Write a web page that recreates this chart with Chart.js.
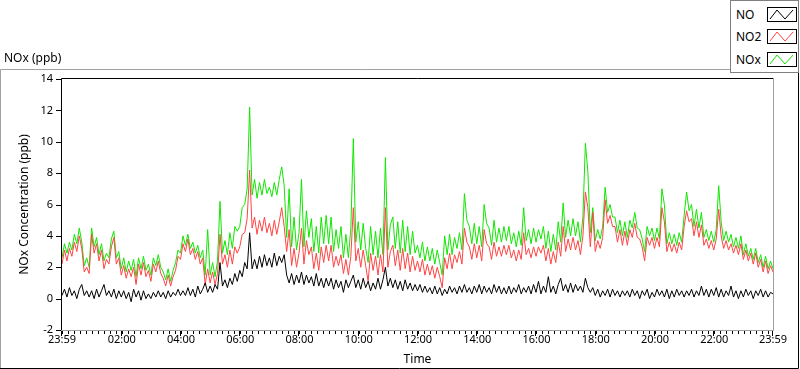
<!DOCTYPE html>
<html>
<head>
<meta charset="utf-8">
<script src="https://cdn.jsdelivr.net/npm/chart.js@4"></script>
<style>
  html, body { margin: 0; padding: 0; background: #fff; }
  #wrap { position: relative; width: 800px; height: 369px; font-family: "Noto Sans", sans-serif; }
  #panelTitle { position: absolute; left: 4px; top: 49px; font-size: 12px; color: #000; }
  #legend { position: absolute; left: 730px; top: 0; width: 67px; height: 71px; border: 1px solid #808080; background: #fff; }
  .item { position: absolute; left: 5px; font-size: 12px; color: #000; line-height: 14px; }
  .item svg { position: absolute; left: 31px; top: -1px; }
</style>
</head>
<body>
<div id="wrap">
  <canvas id="myChart" width="800" height="369"></canvas>
  <div id="panelTitle">NOx (ppb)</div>
  <div id="legend">
    <div class="item" style="top:7px">NO<svg width="30" height="15"><rect x="0.5" y="0.5" width="29" height="14" fill="#fff" stroke="#000"/><polyline points="3,12 10,3 18,12 26,3" fill="none" stroke="#000"/></svg></div>
    <div class="item" style="top:29px">NO2<svg width="30" height="15"><rect x="0.5" y="0.5" width="29" height="14" fill="#fff" stroke="#000"/><polyline points="3,12 10,3 18,12 26,3" fill="none" stroke="#ff4444"/></svg></div>
    <div class="item" style="top:52px">NOx<svg width="30" height="15"><rect x="0.5" y="0.5" width="29" height="14" fill="#fff" stroke="#000"/><polyline points="3,12 10,3 18,12 26,3" fill="none" stroke="#11e600"/></svg></div>
  </div>
</div>
<script>
// one reading every 5 minutes, starting at 23:59 (one row = one hour)
const stepMinutes = 5;

const NO_ppb = [
  0.2, 0.6, 0.1, 0.7, 0.2, 0.5, 0.0, 0.6, 0.9, 0.2, 0.5, 0.1,
  0.5, 0.0, 0.6, 0.1, 0.5, 0.9, 0.2, 0.5, 0.1, 0.6, 0.0, 0.5,
  0.1, 0.5, 0.0, 0.4, -0.2, 0.6, 0.1, 0.5, -0.1, 0.5, 0.0, 0.3,
  0.0, 0.4, 0.1, 0.5, 0.1, 0.4, 0.0, 0.5, 0.1, 0.4, 0.2, 0.6,
  0.2, 0.5, 0.2, 0.7, 0.2, 0.6, 0.1, 0.8, 0.3, 0.6, 1.0, 0.4,
  0.8, 0.4, 0.9, 0.6, 2.3, 0.8, 1.2, 0.7, 1.3, 0.9, 1.6, 1.1,
  1.8, 1.4, 2.3, 1.9, 4.2, 1.9, 2.5, 1.9, 2.7, 2.0, 2.8, 2.1,
  2.6, 2.0, 2.9, 2.1, 2.7, 2.3, 2.8, 1.5, 1.0, 1.6, 0.9, 1.5,
  1.0, 1.7, 0.9, 1.5, 1.0, 1.4, 0.8, 1.6, 0.8, 1.3, 0.7, 1.3,
  0.8, 1.3, 0.6, 1.2, 0.7, 1.1, 0.4, 1.2, 0.7, 1.1, 1.5, 0.7,
  1.2, 0.6, 1.3, 0.7, 1.1, 0.5, 1.0, 0.6, 1.3, 0.6, 1.2, 2.0,
  0.8, 1.3, 0.7, 1.2, 0.6, 1.1, 0.5, 1.2, 0.6, 1.0, 0.5, 0.9,
  0.5, 0.9, 0.4, 0.8, 0.4, 0.7, 0.3, 0.8, 0.3, 0.7, 0.2, 0.6,
  0.3, 0.8, 0.4, 0.7, 0.3, 0.8, 0.4, 0.9, 0.4, 0.7, 0.3, 0.8,
  0.4, 0.9, 0.3, 0.8, 0.4, 0.7, 0.3, 0.9, 0.4, 0.8, 0.3, 0.7,
  0.3, 0.8, 0.3, 0.7, 0.4, 0.9, 0.3, 0.7, 0.4, 0.8, 0.3, 0.9,
  0.4, 1.1, 0.3, 0.8, 0.4, 1.4, 0.4, 0.8, 0.3, 0.9, 1.3, 0.5,
  0.9, 0.4, 1.0, 0.4, 0.9, 0.5, 0.8, 0.4, 1.3, 0.7, 0.4, 0.7,
  0.2, 0.6, 0.1, 0.5, 0.2, 0.6, 0.1, 0.6, 0.2, 0.5, 0.1, 0.5,
  0.2, 0.5, 0.1, 0.6, 0.2, 0.5, 0.0, 0.5, 0.2, 0.6, 0.0, 0.4,
  0.1, 0.6, 0.2, 0.5, 0.1, 0.6, 0.0, 0.5, 0.1, 0.6, 0.2, 0.5,
  0.1, 0.5, 0.2, 0.6, 0.1, 0.5, 0.2, 0.8, 0.2, 0.6, 0.1, 0.6,
  0.2, 0.7, 0.1, 0.6, 0.1, 0.5, 0.2, 0.8, 0.1, 0.5, 0.0, 0.5,
  0.1, 0.6, 0.2, 0.5, 0.0, 0.5, 0.2, 0.6, 0.1, 0.5, 0.1, 0.4,
  0.3
];

const NO2_ppb = [
  2.2, 3.1, 2.4, 3.2, 2.7, 3.6, 3.0, 4.0, 3.2, 1.7, 2.0, 1.6,
  4.1, 2.9, 3.5, 2.4, 3.1, 1.9, 2.5, 2.2, 3.3, 3.9, 2.2, 2.6,
  1.5, 2.1, 1.3, 1.9, 1.4, 2.0, 0.9, 2.2, 1.5, 2.3, 1.4, 1.8,
  1.1, 2.2, 1.7, 2.4, 1.6, 1.3, 0.8, 1.5, 0.8, 1.4, 1.8, 2.7,
  2.5, 3.5, 3.0, 3.8, 2.8, 3.2, 2.5, 3.0, 2.2, 2.6, 0.9, 1.9,
  1.0, 1.7, 0.9, 1.6, 4.1, 2.2, 2.8, 2.0, 3.1, 2.2, 3.3, 2.9,
  3.3, 4.1, 4.2, 5.1, 8.2, 4.5, 5.2, 4.1, 5.0, 4.3, 5.2, 4.2,
  4.8, 4.0, 5.0, 4.1, 4.9, 5.8, 4.6, 3.0, 4.4, 2.1, 3.2, 2.0,
  2.9, 4.5, 2.2, 3.7, 2.8, 3.3, 1.9, 2.9, 1.8, 3.3, 2.3, 3.4,
  2.4, 3.4, 2.0, 2.7, 2.1, 2.8, 1.6, 2.5, 1.5, 2.7, 5.8, 2.4,
  3.2, 2.0, 3.1, 2.1, 1.1, 2.9, 1.8, 2.7, 1.5, 2.8, 1.7, 5.8,
  2.0, 3.0, 3.4, 2.1, 3.1, 1.8, 3.2, 1.9, 2.9, 1.7, 2.7, 1.8,
  2.4, 1.7, 2.5, 1.5, 2.2, 1.5, 2.1, 1.3, 2.0, 1.4, 0.7, 2.6,
  1.9, 2.9, 1.9, 2.8, 2.3, 3.0, 2.2, 4.5, 3.6, 3.3, 2.5, 3.5,
  2.6, 3.4, 2.4, 4.4, 3.5, 3.3, 2.5, 3.6, 2.7, 3.3, 2.7, 3.4,
  2.8, 3.4, 2.6, 3.1, 2.4, 3.1, 2.5, 4.2, 2.8, 3.2, 2.6, 3.3,
  2.7, 3.3, 2.9, 3.4, 2.4, 3.2, 2.2, 3.0, 2.3, 3.6, 2.7, 4.6,
  3.0, 3.8, 3.1, 3.9, 3.1, 3.7, 2.8, 4.0, 6.8, 5.8, 3.3, 5.5,
  3.0, 3.7, 3.2, 3.9, 6.3, 4.8, 5.3, 4.6, 4.6, 3.6, 4.4, 3.4,
  4.3, 3.4, 4.4, 3.9, 4.8, 3.9, 3.8, 3.3, 2.4, 3.9, 3.4, 3.9,
  3.2, 3.9, 3.3, 5.8, 4.9, 3.0, 3.6, 3.0, 3.5, 2.9, 3.6, 3.1,
  4.6, 5.6, 4.9, 5.1, 4.0, 4.9, 3.9, 4.7, 3.4, 3.8, 3.2, 3.7,
  3.1, 3.8, 5.7, 4.0, 3.2, 3.7, 3.1, 3.5, 2.9, 3.4, 2.8, 3.5,
  2.5, 3.1, 2.4, 2.9, 2.2, 2.9, 2.0, 2.5, 1.7, 2.4, 1.6, 2.1,
  1.7
];

const NOx_ppb = [
  2.6, 3.5, 2.9, 3.6, 3.1, 4.1, 3.5, 4.5, 3.6, 2.1, 2.6, 2.0,
  4.5, 3.3, 3.9, 2.8, 3.5, 2.4, 2.9, 2.6, 3.8, 4.3, 2.6, 3.0,
  1.9, 2.6, 1.7, 2.4, 1.8, 2.5, 1.4, 2.6, 1.9, 2.7, 1.8, 2.2,
  1.5, 2.6, 2.1, 2.8, 2.0, 1.7, 1.2, 1.9, 1.1, 1.8, 2.3, 3.1,
  2.9, 4.0, 3.4, 4.1, 3.2, 3.6, 2.9, 3.4, 2.6, 3.1, 1.5, 4.4,
  1.5, 2.3, 1.4, 2.4, 6.2, 2.9, 3.7, 2.8, 4.2, 3.2, 4.6, 4.3,
  4.6, 5.8, 6.0, 7.0, 12.2, 6.6, 7.6, 6.4, 7.4, 6.6, 7.6, 6.7,
  7.1, 6.5, 7.4, 6.6, 7.6, 8.4, 7.2, 3.9, 7.0, 3.3, 5.2, 3.1,
  4.2, 7.6, 3.3, 5.6, 3.9, 5.1, 3.0, 4.6, 2.9, 5.2, 3.5, 5.3,
  3.5, 5.2, 3.0, 4.4, 3.2, 4.6, 2.6, 4.1, 2.6, 4.5, 10.2, 3.6,
  4.9, 3.1, 4.8, 3.2, 2.3, 4.6, 2.8, 4.3, 2.6, 4.5, 2.8, 9.0,
  3.1, 4.7, 5.2, 3.2, 4.9, 2.9, 5.0, 3.0, 4.6, 2.8, 4.3, 2.9,
  3.4, 2.6, 3.6, 2.4, 3.3, 2.4, 3.2, 2.2, 3.1, 2.3, 1.5, 4.0,
  2.8, 4.1, 2.8, 3.9, 3.2, 4.2, 3.1, 6.7, 5.0, 4.6, 3.5, 4.8,
  3.5, 4.6, 3.3, 6.0, 4.8, 4.5, 3.4, 5.0, 3.6, 4.5, 3.6, 4.6,
  3.7, 4.6, 3.5, 4.2, 3.3, 4.3, 3.4, 5.8, 3.7, 4.4, 3.5, 4.5,
  3.6, 4.4, 3.8, 4.6, 3.2, 4.3, 3.0, 4.1, 3.1, 4.9, 3.6, 6.1,
  3.9, 5.0, 4.0, 5.1, 4.0, 4.9, 3.6, 5.2, 9.9, 8.1, 4.2, 5.8,
  3.7, 4.4, 3.8, 4.6, 7.1, 5.5, 6.0, 5.2, 5.2, 4.2, 5.0, 4.0,
  4.9, 3.9, 5.0, 4.5, 5.5, 4.5, 4.4, 3.8, 3.0, 4.6, 4.0, 4.5,
  3.7, 4.5, 3.8, 7.0, 6.0, 3.5, 4.2, 3.5, 4.1, 3.4, 4.2, 3.6,
  5.3, 6.8, 5.6, 6.0, 4.6, 5.7, 4.5, 5.5, 3.9, 4.4, 3.7, 4.3,
  3.6, 4.4, 7.2, 4.9, 3.7, 4.3, 3.6, 4.1, 3.3, 3.9, 3.2, 4.0,
  2.8, 3.5, 2.7, 3.2, 2.5, 3.2, 2.3, 2.8, 2.0, 2.7, 1.9, 2.4,
  1.9
];

// major ticks (minutes from start) and their labels
const tickMinutes = [0, 121, 241, 361, 481, 601, 721, 841, 961, 1081, 1201, 1321, 1440];
const tickLabels = ['23:59', '02:00', '04:00', '06:00', '08:00', '10:00', '12:00',
                    '14:00', '16:00', '18:00', '20:00', '22:00', '23:59'];
const yTicks = [-2, 0, 2, 4, 6, 8, 10, 12, 14];

const toPoints = arr => arr.map((v, i) => ({ x: i * stepMinutes, y: v }));

// frame + tick marks, labview style
const framePlugin = {
    id: 'frame',
    afterDraw(chart) {
        const { ctx, chartArea: a, scales } = chart;
        ctx.save();
        ctx.lineWidth = 1;

        // outer panel
        ctx.strokeStyle = '#a0a0a0';
        ctx.beginPath();
        ctx.moveTo(0.5, 368); ctx.lineTo(0.5, 69.5); ctx.lineTo(730, 69.5);
        ctx.stroke();
        ctx.strokeStyle = '#000';
        ctx.beginPath();
        ctx.moveTo(0, 368.5); ctx.lineTo(798.5, 368.5); ctx.lineTo(798.5, 72);
        ctx.stroke();

        // plot frame
        ctx.strokeStyle = '#000';
        ctx.beginPath();
        ctx.moveTo(a.left - 0.5, a.bottom); ctx.lineTo(a.left - 0.5, a.top - 0.5); ctx.lineTo(a.right, a.top - 0.5);
        ctx.stroke();
        ctx.strokeStyle = '#a0a0a0';
        ctx.beginPath();
        ctx.moveTo(a.left - 1, a.bottom + 0.5); ctx.lineTo(a.right + 0.5, a.bottom + 0.5); ctx.lineTo(a.right + 0.5, a.top - 1);
        ctx.stroke();

        // x ticks
        ctx.strokeStyle = '#000';
        ctx.beginPath();
        for (let m = 1; m < 1440; m += 12) {
            const px = Math.round(scales.x.getPixelForValue(m)) + 0.5;
            ctx.moveTo(px, a.bottom + 1); ctx.lineTo(px, a.bottom + 4);
        }
        tickMinutes.forEach(m => {
            const px = Math.round(scales.x.getPixelForValue(m)) - 0.5;
            ctx.moveTo(px, a.bottom + 1); ctx.lineTo(px, a.bottom + 6);
        });
        // y ticks
        yTicks.forEach(v => {
            const py = Math.round(scales.y.getPixelForValue(v)) + 0.5;
            ctx.moveTo(a.left - 6, py); ctx.lineTo(a.left - 1, py);
        });
        ctx.stroke();
        ctx.restore();
    }
};

const tickFont = { family: 'Noto Sans', size: 11 };
const titleFont = { family: 'Noto Sans', size: 12 };

const ctx = document.getElementById('myChart').getContext('2d');
new Chart(ctx, {
    type: 'line',
    data: {
        datasets: [
            { label: 'NO', data: toPoints(NO_ppb), borderColor: '#000000' },
            { label: 'NO2', data: toPoints(NO2_ppb), borderColor: '#ff4444' },
            { label: 'NOx', data: toPoints(NOx_ppb), borderColor: '#11e600' }
        ]
    },
    options: {
        responsive: false,
        animation: false,
        datasets: { line: { borderWidth: 1, pointRadius: 0, tension: 0 } },
        layout: { padding: { left: 0, top: 79, right: 27, bottom: 0 } },
        scales: {
            x: {
                type: 'linear',
                min: 0,
                max: 1440,
                afterFit: s => { s.height = 39; },
                afterBuildTicks: s => { s.ticks = tickMinutes.map(v => ({ value: v })); },
                ticks: {
                    autoSkip: false,
                    maxRotation: 0,
                    padding: 3,
                    color: '#000',
                    font: tickFont,
                    callback: (v, i) => tickLabels[i]
                },
                grid: { display: false, drawTicks: false },
                border: { display: false },
                title: { display: true, text: 'Time', color: '#000', font: titleFont, padding: { top: 0, bottom: 2 } }
            },
            y: {
                min: -2,
                max: 14,
                afterFit: s => { s.width = 62; },
                afterBuildTicks: s => { s.ticks = yTicks.map(v => ({ value: v })); },
                ticks: { padding: 9, color: '#000', font: tickFont },
                grid: { display: false, drawTicks: false },
                border: { display: false },
                title: { display: true, text: 'NOx Concentration (ppb)', color: '#000', font: titleFont, padding: { top: 17, bottom: 0 } }
            }
        },
        plugins: {
            legend: { display: false },
            tooltip: { enabled: false }
        }
    },
    plugins: [framePlugin]
});
</script>
</body>
</html>
